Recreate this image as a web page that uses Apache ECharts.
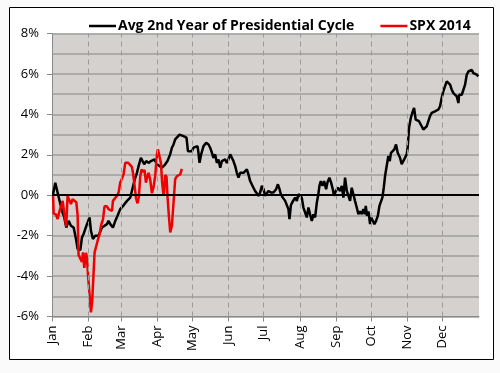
<!DOCTYPE html>
<html>
<head>
<meta charset="utf-8">
<script src="https://cdn.jsdelivr.net/npm/echarts@6/dist/echarts.min.js"></script>
<style>
html,body{margin:0;padding:0;background:#fafafa;}
#c{width:500px;height:373px;}
</style>
</head>
<body>
<div id="c"></div>
<script>
// Day-of-year positions of month starts and their labels
const monthStarts = [0, 31, 59, 90, 120, 151, 181, 212, 243, 273, 304, 334];
const monthNames = ['Jan','Feb','Mar','Apr','May','Jun','Jul','Aug','Sep','Oct','Nov','Dec'];
const yTicks = [-6, -4, -2, 0, 2, 4, 6, 8];

// Avg 2nd Year of Presidential Cycle: [day of year, % change]
const avgCycle = [
[0.9,0.05],[2.8,0.62],[4.8,0.13],[6.5,0.05],[8.5,-0.77],[10.5,-1.1],[12.2,-1.6],[14.2,-1.27],[16.2,-1.51],[18.5,-1.6],
[20.8,-2.25],[21.9,-2.66],[24.2,-2.71],[25.6,-2.09],[27.0,-1.92],[29.9,-1.43],[32.1,-1.1],[33.3,-1.76],[35.0,-2.17],[37.0,-2.0],
[39.8,-2.0],[42.7,-1.6],[47.0,-1.43],[48.3,-1.27],[49.8,-1.43],[52.1,-1.6],[54.1,-1.27],[56.0,-1.02],[58.3,-0.69],[61.2,-0.5],
[64.1,-0.28],[66.9,-0.12],[68.3,0.21],[69.7,0.54],[71.2,0.87],[72.6,1.11],[74.0,1.44],[76.0,1.85],[77.7,1.94],[78.8,1.53],
[80.5,1.69],[82.5,1.6],[84.6,1.69],[86.3,1.6],[87.6,1.77],[89.7,1.53],[91.1,1.6],[94.0,1.36],[95.3,1.28],[96.8,1.53],
[98.7,1.69],[101.0,2.02],[102.5,2.35],[103.9,2.51],[105.3,2.76],[106.8,2.84],[109.0,3.0],[110.4,3.08],[112.4,2.92],[113.9,3.0],
[115.0,2.85],[116.2,2.18],[117.5,2.1],[119.6,2.18],[121.0,2.35],[122.4,2.3],[124.4,2.43],[125.2,2.1],[126.1,1.6],[127.5,2.02],
[129.5,2.43],[131.8,2.59],[133.8,2.51],[135.2,2.35],[136.7,2.1],[138.0,1.85],[139.5,2.02],[140.9,1.6],[142.3,1.77],[143.8,1.36],
[145.2,1.69],[146.6,1.6],[148.0,1.77],[149.5,1.6],[150.8,1.77],[152.3,2.02],[153.8,1.94],[155.1,1.69],[156.6,1.44],[158.0,1.11],
[159.4,0.87],[160.8,1.11],[162.3,1.03],[163.7,1.11],[165.1,1.03],[166.6,1.28],[167.9,1.03],[169.4,0.7],[170.8,0.7],[172.2,0.37],
[173.6,0.21],[175.1,0.3],[176.5,-0.03],[177.9,0.13],[179.4,0.46],[180.8,0.3],[182.2,-0.03],[183.7,0.05],[185.0,0.21],[187.3,0.13],
[189.3,0.13],[189.9,0.05],[191.6,0.3],[193.1,0.54],[194.5,0.3],[195.6,0.05],[197.3,-0.12],[199.3,-0.28],[200.7,-0.2],[202.1,-0.69],
[203.0,-1.18],[204.2,-0.5],[205.3,-0.36],[206.4,-0.44],[207.8,-0.12],[209.3,-0.28],[210.6,0.05],[212.1,0.05],[213.5,-0.12],[214.9,-0.61],
[216.4,-0.86],[217.8,-1.1],[219.2,-0.61],[220.6,-0.94],[222.1,-1.27],[223.5,-0.94],[224.9,-1.1],[226.4,-0.36],[227.7,0.05],[228.6,0.46],
[229.8,0.7],[231.2,0.46],[232.6,0.7],[234.3,0.3],[235.4,0.62],[237.1,0.87],[238.6,0.62],[240.0,0.3],[241.1,-0.03],[242.6,0.2],
[244.3,0.37],[246.3,0.21],[247.7,0.46],[249.1,-0.12],[250.5,0.87],[252.0,0.21],[253.4,-0.03],[254.8,-0.28],[256.2,0.37],[257.6,0.05],
[259.0,-0.28],[260.5,-0.61],[261.9,-0.94],[263.3,-0.8],[264.8,-0.94],[266.2,-0.69],[267.4,-0.94],[268.2,-0.53],[269.3,-1.02],[270.5,-0.8],
[271.9,-1.43],[272.8,-1.1],[274.2,-1.02],[275.6,-1.43],[277.0,-1.27],[278.5,-1.02],[279.9,-0.53],[281.3,-0.6],[282.4,-0.12],[283.6,0.37],
[284.7,0.95],[286.2,1.03],[287.5,1.94],[288.7,1.69],[289.8,2.1],[291.3,2.18],[292.6,2.27],[294.1,2.51],[295.5,2.1],[297.5,1.85],
[298.9,1.53],[300.3,1.6],[301.7,1.85],[303.2,2.02],[304.0,2.35],[305.2,3.33],[306.7,3.82],[308.4,4.15],[309.5,4.32],[310.9,3.74],
[312.3,3.74],[313.7,3.66],[314.6,3.58],[316.0,3.41],[317.4,3.25],[318.9,3.17],[320.3,3.41],[321.7,3.5],[323.1,3.91],[324.6,4.07],
[326.0,4.07],[327.4,4.15],[328.9,4.15],[330.3,4.24],[331.7,4.4],[333.1,4.81],[334.5,5.14],[335.4,5.3],[336.6,5.38],[337.4,5.63],
[338.8,5.71],[340.3,5.47],[341.7,5.22],[343.1,5.05],[344.5,4.97],[346.0,4.89],[347.4,4.56],[348.0,4.97],[349.1,5.05],[350.3,4.97],
[351.7,5.05],[353.1,5.47],[354.5,5.96],[355.9,6.12],[357.4,6.04],[358.8,6.2],[360.2,6.04],[361.6,6.1],[363.1,5.96],[364.4,5.88]
];

// SPX 2014: [day of year, % change]
const spx2014 = [
[0.9,0.0],[1.4,-0.9],[3.3,-0.95],[4.8,-1.18],[6.5,-0.77],[7.9,-0.5],[9.1,-0.28],[10.5,-0.3],[11.4,-1.27],[12.2,-1.55],
[13.3,-0.03],[14.5,-0.1],[16.2,-0.44],[17.6,-0.2],[19.3,-0.25],[20.8,-0.35],[21.9,-1.0],[22.7,-2.95],[24.2,-2.95],[25.6,-3.3],
[26.5,-2.83],[27.6,-3.6],[29.0,-2.85],[29.9,-3.1],[30.8,-3.98],[32.1,-4.9],[33.3,-5.8],[34.4,-5.2],[35.5,-3.89],[36.4,-2.83],
[37.6,-2.85],[39.0,-2.25],[40.7,-1.92],[42.1,-1.45],[43.6,-1.2],[44.9,-0.55],[47.0,-0.55],[48.3,-0.69],[49.8,-0.6],[51.3,-0.77],
[52.1,-0.28],[53.8,-0.28],[55.5,-0.03],[56.9,0.13],[58.3,0.62],[59.8,0.55],[61.2,1.03],[62.6,1.6],[65.2,1.6],[66.9,1.6],
[68.3,1.4],[69.2,1.11],[70.3,0.62],[71.8,-0.15],[73.1,-0.4],[74.3,-0.05],[75.4,0.9],[76.5,1.28],[78.0,1.15],[79.1,1.25],
[80.3,0.62],[81.4,0.9],[82.5,1.11],[84.0,0.75],[85.4,0.1],[86.8,0.4],[88.2,0.95],[89.7,2.0],[90.5,2.27],[91.7,2.2],
[93.1,1.6],[94.2,0.6],[95.3,0.0],[95.9,0.25],[96.8,1.0],[97.9,0.9],[98.8,-0.12],[100.0,-1.1],[101.1,-1.84],[102.5,-1.5],
[103.9,-0.36],[105.3,0.8],[106.8,0.95],[108.1,0.95],[109.6,1.03],[111.0,1.3]
];

const chart = echarts.init(document.getElementById('c'), null, {renderer: 'canvas'});
const font = 'Open Sans';
chart.setOption({
  backgroundColor: '#fafafa',
  animation: false,
  graphic: [{
    type: 'rect', left: 9, top: 7, z: -1,
    shape: {width: 484, height: 352},
    style: {fill: '#ffffff', stroke: '#000000', lineWidth: 1}
  }],
  legend: {
    top: 14, left: 84,
    icon: 'rect',
    itemWidth: 27, itemHeight: 2.5, itemGap: 26,
    textStyle: {fontFamily: font, fontWeight: 'bold', fontSize: 14, color: '#000', padding: [0, 0, 0, -3]},
    data: ['Avg 2nd Year of Presidential Cycle', 'SPX 2014']
  },
  grid: {left: 52, right: 21, top: 33.5, bottom: 56.5, show: true, backgroundColor: '#d4d1ce', borderWidth: 0},
  xAxis: {
    type: 'value', min: 0, max: 365,
    axisLine: {show: true, onZero: false, lineStyle: {color: '#8a8a8a', width: 1}},
    axisTick: {show: true, customValues: monthStarts, length: 5, lineStyle: {color: '#8a8a8a'}},
    axisLabel: {
      customValues: monthStarts, rotate: 90, margin: 9,
      fontFamily: font, fontSize: 13, color: '#000',
      formatter: v => monthNames[monthStarts.indexOf(v)] || ''
    },
    splitLine: {show: false}
  },
  yAxis: {
    type: 'value', min: -6, max: 8, interval: 2,
    axisLine: {show: true, lineStyle: {color: '#8a8a8a'}},
    axisTick: {show: true, length: 5, lineStyle: {color: '#8a8a8a'}},
    axisLabel: {fontFamily: font, fontSize: 13, color: '#000', margin: 13, formatter: v => v + '%'},
    splitLine: {show: true, lineStyle: {color: '#9e9e9e', width: 1.5}},
    minorTick: {show: false, splitNumber: 2},
    minorSplitLine: {show: true, lineStyle: {color: '#9e9e9e', width: 1.5}}
  },
  series: [
    {
      name: 'month lines', type: 'line', data: [], silent: true,
      markLine: {
        silent: true, symbol: 'none', animation: false,
        label: {show: false},
        lineStyle: {color: '#9a9a9a', type: [5, 4], width: 1},
        data: monthStarts.slice(1).map(d => ({xAxis: d}))
      }
    },
    {
      name: 'Avg 2nd Year of Presidential Cycle', type: 'line', data: avgCycle,
      symbol: 'none', lineStyle: {color: '#000', width: 2.5}, itemStyle: {color: '#000'}, z: 3,
      markLine: {
        silent: true, symbol: 'none', label: {show: false},
        lineStyle: {color: '#000', type: 'solid', width: 2.2},
        data: [{yAxis: 0}]
      }
    },
    {
      name: 'SPX 2014', type: 'line', data: spx2014,
      symbol: 'none', lineStyle: {color: '#f00000', width: 2.5}, itemStyle: {color: '#f00000'}, z: 4
    }
  ]
});
</script>
</body>
</html>
